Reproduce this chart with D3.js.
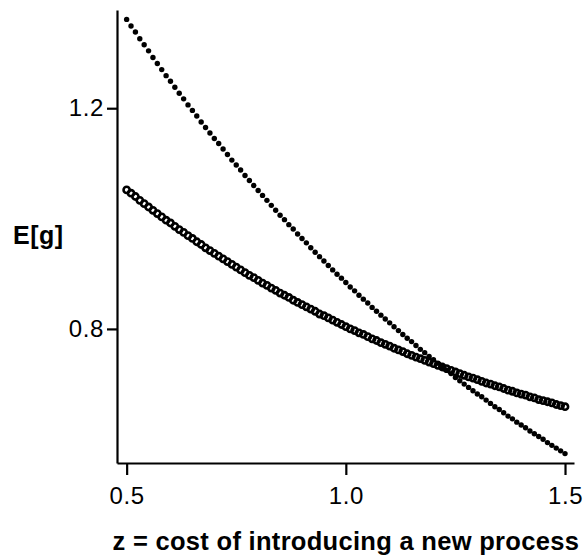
<!DOCTYPE html>
<html>
<head>
<meta charset="utf-8">
<script src="https://cdn.jsdelivr.net/npm/d3@7"></script>
<style>
  html, body { margin: 0; padding: 0; background: #fff; }
  svg { display: block; font-family: "Liberation Sans", Arial, Helvetica, sans-serif; }
</style>
</head>
<body>
<svg id="chart" width="586" height="559"></svg>
<script>
// z values: cost of introducing a new process, 0.50 .. 1.50 in steps of 0.01
const zValues = [
  0.50,0.51,0.52,0.53,0.54,0.55,0.56,0.57,0.58,0.59,
  0.60,0.61,0.62,0.63,0.64,0.65,0.66,0.67,0.68,0.69,
  0.70,0.71,0.72,0.73,0.74,0.75,0.76,0.77,0.78,0.79,
  0.80,0.81,0.82,0.83,0.84,0.85,0.86,0.87,0.88,0.89,
  0.90,0.91,0.92,0.93,0.94,0.95,0.96,0.97,0.98,0.99,
  1.00,1.01,1.02,1.03,1.04,1.05,1.06,1.07,1.08,1.09,
  1.10,1.11,1.12,1.13,1.14,1.15,1.16,1.17,1.18,1.19,
  1.20,1.21,1.22,1.23,1.24,1.25,1.26,1.27,1.28,1.29,
  1.30,1.31,1.32,1.33,1.34,1.35,1.36,1.37,1.38,1.39,
  1.40,1.41,1.42,1.43,1.44,1.45,1.46,1.47,1.48,1.49,
  1.50
];

// E[g], steep series (filled dots)
const filledSeries = [
  1.361,1.349,1.338,1.326,1.315,1.304,1.292,1.281,1.270,1.259,
  1.249,1.238,1.227,1.217,1.206,1.196,1.186,1.175,1.165,1.155,
  1.145,1.136,1.126,1.116,1.106,1.097,1.088,1.078,1.069,1.060,
  1.051,1.042,1.033,1.024,1.015,1.006,0.998,0.989,0.981,0.972,
  0.964,0.956,0.947,0.939,0.931,0.923,0.915,0.907,0.899,0.892,
  0.884,0.876,0.869,0.861,0.854,0.847,0.839,0.832,0.825,0.818,
  0.811,0.804,0.797,0.790,0.783,0.777,0.770,0.763,0.757,0.750,
  0.744,0.738,0.731,0.725,0.719,0.712,0.706,0.700,0.694,0.688,
  0.682,0.677,0.671,0.665,0.659,0.654,0.648,0.642,0.637,0.631,
  0.626,0.621,0.615,0.610,0.605,0.600,0.594,0.589,0.584,0.579,
  0.574
];

// E[g], flatter series (open circles)
const openSeries = [
  1.052,1.046,1.040,1.033,1.027,1.021,1.015,1.009,1.003,0.997,
  0.992,0.986,0.980,0.975,0.969,0.964,0.958,0.953,0.947,0.942,
  0.937,0.932,0.927,0.922,0.917,0.912,0.907,0.902,0.897,0.893,
  0.888,0.883,0.879,0.874,0.870,0.865,0.861,0.857,0.852,0.848,
  0.844,0.840,0.836,0.832,0.827,0.824,0.820,0.816,0.812,0.808,
  0.804,0.800,0.797,0.793,0.790,0.786,0.782,0.779,0.775,0.772,
  0.769,0.765,0.762,0.759,0.755,0.752,0.749,0.746,0.743,0.740,
  0.737,0.734,0.731,0.728,0.725,0.722,0.719,0.716,0.713,0.711,
  0.708,0.705,0.702,0.700,0.697,0.695,0.692,0.689,0.687,0.684,
  0.682,0.680,0.677,0.675,0.672,0.670,0.668,0.666,0.663,0.661,
  0.659
];

const xTicks = [0.5, 1.0, 1.5];
const yTicks = [0.8, 1.2];
const xTitle = "z = cost of introducing a new process";
const yTitle = "E[g]";

const svg = d3.select("#chart");

const x = d3.scaleLinear().domain([0.478, 1.5205]).range([117, 574]);
const y = d3.scaleLinear().domain([0.557, 1.378]).range([463, 10]);

const fmt = d3.format(".1f");

// x axis
const gx = svg.append("g")
  .attr("transform", "translate(0,463)")
  .call(d3.axisBottom(x).tickValues(xTicks).tickFormat(fmt)
    .tickSizeInner(12).tickSizeOuter(0).tickPadding(12));

// y axis
const gy = svg.append("g")
  .attr("transform", "translate(117,0)")
  .call(d3.axisLeft(y).tickValues(yTicks).tickFormat(fmt)
    .tickSizeInner(10).tickSizeOuter(0).tickPadding(3));

[gx, gy].forEach(g => {
  g.select(".domain").attr("stroke", "#000").attr("stroke-width", 2.2);
  g.selectAll(".tick line").attr("stroke", "#000").attr("stroke-width", 2.2);
  g.selectAll(".tick text")
    .attr("fill", "#000")
    .style("font-size", "24px")
    .style("letter-spacing", "0.6px")
    .style("font-family", "'Liberation Sans', Arial, Helvetica, sans-serif");
});

const points = zValues.map((z, i) => ({ z, filled: filledSeries[i], open: openSeries[i] }));

// flatter curve: overlapping open circles
svg.append("g")
  .selectAll("circle")
  .data(points)
  .join("circle")
  .attr("cx", d => x(d.z))
  .attr("cy", d => y(d.open))
  .attr("r", 3.1)
  .attr("fill", "none")
  .attr("stroke", "#000")
  .attr("stroke-width", 2.6);

// steep curve: filled dots
svg.append("g")
  .selectAll("circle")
  .data(points)
  .join("circle")
  .attr("cx", d => x(d.z))
  .attr("cy", d => y(d.filled))
  .attr("r", 2.7)
  .attr("fill", "#000");

// axis titles
svg.append("text")
  .attr("x", (x(0.5) + x(1.5)) / 2)
  .attr("y", 550)
  .attr("text-anchor", "middle")
  .style("font-weight", "bold")
  .style("font-size", "25.5px")
  .style("letter-spacing", "0.3px")
  .text(xTitle);

svg.append("text")
  .attr("x", 13)
  .attr("y", 244)
  .style("font-weight", "bold")
  .style("font-size", "25px")
  .style("letter-spacing", "0.5px")
  .text(yTitle);
</script>
</body>
</html>
